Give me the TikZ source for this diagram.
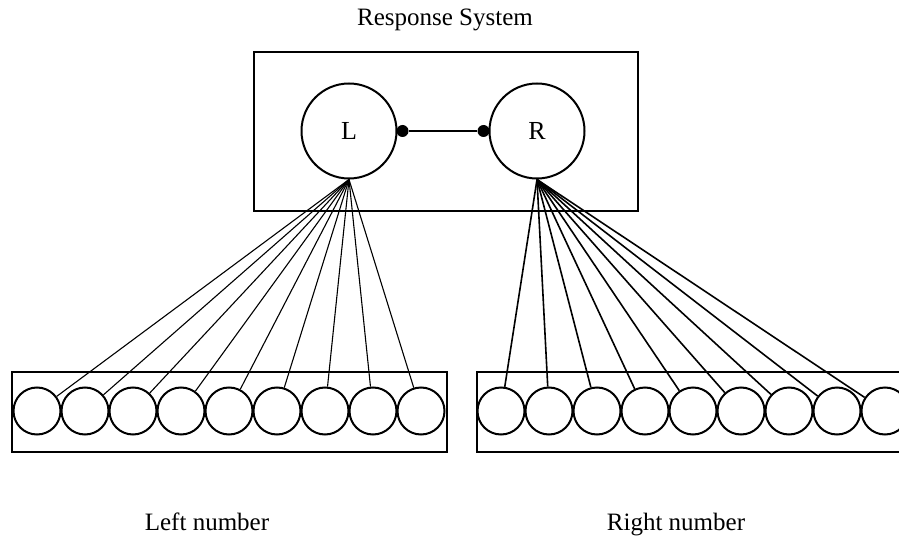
\documentclass[tikz,border=0pt]{standalone}
\usepackage{fontspec}
\setmainfont{Liberation Serif}
\usetikzlibrary{positioning}
\tikzset{
    unit/.style={circle,draw,line width=2pt,minimum size=95pt,inner sep=0pt,font=\fontsize{26}{30}\selectfont},
    input/.style={circle,draw,line width=2pt,minimum size=47pt,inner sep=0pt},
    frame/.style={rectangle,draw,line width=2.2pt,inner sep=0pt},
    dot/.style={circle,fill,minimum size=12pt,inner sep=0pt},
    caption/.style={anchor=base,font=\fontsize{25}{30}\selectfont},
    fan/.style={line width=1.1pt},
    fan thick/.style={line width=1.6pt}
}

\begin{document}
\begin{tikzpicture}[x=1pt,y=-1pt]

                \useasboundingbox (0,0) rectangle (899,548);
                \clip (0,0) rectangle (899,548);

                \node[caption] (title)  at (445,26)  {Response System};
                \node[caption] (left)   at (207,530) {Left number};
                \node[caption] (right)  at (676,530) {Right number};

                \node[frame,minimum width=384pt,minimum height=159pt] (response) at (446,131.5) {};
                \node[frame,minimum width=435pt,minimum height=80pt]  (lbox)     at (229.5,412)  {};
                \node[frame,minimum width=460pt,minimum height=80pt]  (rbox)     at (707,412)    {};

                \node[unit] (L) at (349,131) {L};
                \node[unit] (R) at (537,131) {R};

                \node[dot] (L dot) at ([xshift=5pt]L.east) {};
                \node[dot] (R dot) at ([xshift=-5pt]R.west) {}
                    edge[line width=2pt] (L dot);

                % input units of the two numbers
                \foreach \i in {1,...,9} {
                    \node[input] (l\i) at ({37+48*(\i-1)},411) {};
                    \node[input] (r\i) at ({501+48*(\i-1)},411) {};
                    \draw[fan]       (L.south) -- (l\i);
                    \draw[fan thick] (R.south) -- (r\i);
                }

\end{tikzpicture}
\end{document}
